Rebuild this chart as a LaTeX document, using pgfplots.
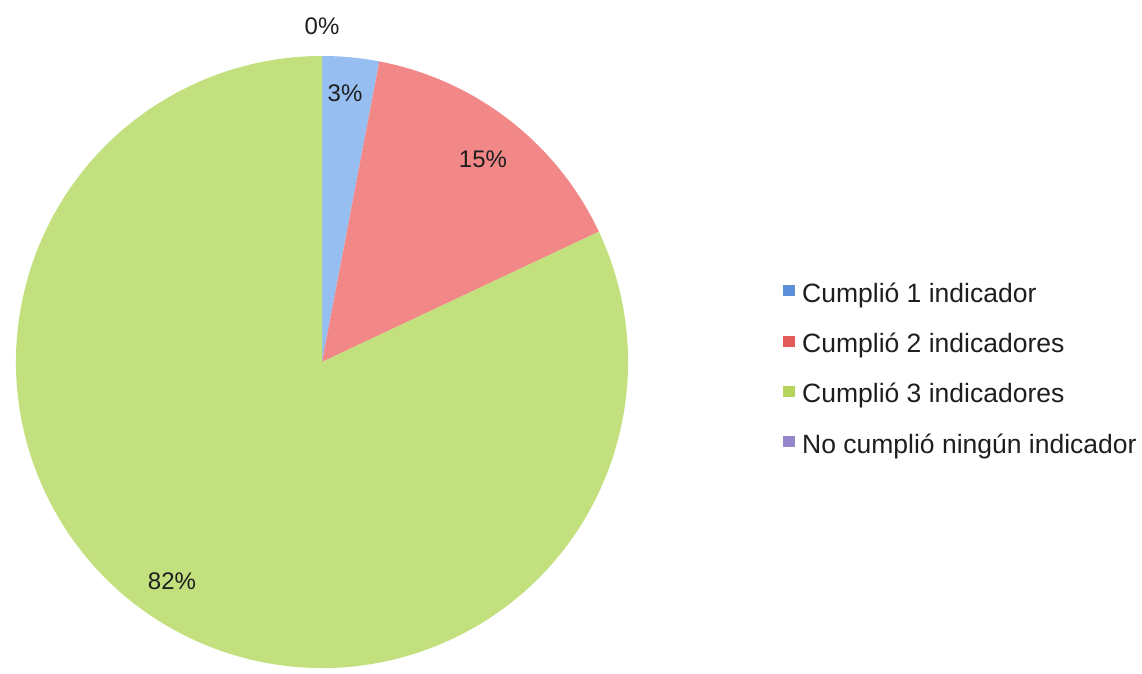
\documentclass[border=0pt]{standalone}
\usepackage{pgfplots}
\pgfplotsset{compat=1.18}
\usepackage{pgfplotstable}
\usepackage{fontspec}
\setmainfont{Liberation Sans}
\definecolor{pieBlue}{HTML}{96BEF0}
\definecolor{pieRed}{HTML}{F28787}
\definecolor{pieGreen}{HTML}{C2E07E}
\definecolor{legBlue}{HTML}{5B8FD8}
\definecolor{legRed}{HTML}{E35A5A}
\definecolor{legGreen}{HTML}{B6D35C}
\definecolor{legPurple}{HTML}{9486C9}
\definecolor{txt}{HTML}{1E1E1E}
% percent of each category
\pgfplotstableread{
cat value
1 3
2 15
3 82
4 0
}\piedata
\begin{document}
\begin{tikzpicture}
\pgfplotstablegetelem{0}{value}\of\piedata \let\vA\pgfplotsretval
\pgfplotstablegetelem{1}{value}\of\piedata \let\vB\pgfplotsretval
\pgfplotstablegetelem{2}{value}\of\piedata \let\vC\pgfplotsretval
\pgfplotstablegetelem{3}{value}\of\piedata \let\vD\pgfplotsretval
\pgfmathsetmacro\aO{90}
\pgfmathsetmacro\aI{\aO-3.6*\vA}
\pgfmathsetmacro\aII{\aI-3.6*\vB}
\pgfmathsetmacro\aIII{\aII-3.6*\vC}
\begin{axis}[
  x=1pt, y=1pt, xmin=0, xmax=1142, ymin=0, ymax=673,
  enlargelimits=false, scale only axis, hide axis, clip=false,
  xtick=\empty, ytick=\empty,
  legend style={at={(axis cs:783,391)}, anchor=north west, draw=none, fill=none,
    inner sep=0pt, row sep=24.3pt,
    font=\fontsize{26.5}{30}\selectfont\color{txt},
    nodes={anchor=base west, inner sep=0pt, text height=20pt, text depth=6pt}},
  legend image code/.code={\fill[#1, draw=none] (0pt,6pt) rectangle (12pt,17pt); \path (19pt,0pt);},
]
\addlegendimage{fill=legBlue, draw=none}
\addlegendentry{Cumplió 1 indicador}
\addlegendimage{fill=legRed, draw=none}
\addlegendentry{Cumplió 2 indicadores}
\addlegendimage{fill=legGreen, draw=none}
\addlegendentry{Cumplió 3 indicadores}
\addlegendimage{fill=legPurple, draw=none}
\addlegendentry{No cumplió ningún indicador}
\fill[pieBlue] (axis cs:322,311) -- ++(\aO:306pt) arc[start angle=\aO, end angle=\aI, radius=306pt] -- cycle;
\fill[pieRed] (axis cs:322,311) -- ++(\aI:306pt) arc[start angle=\aI, end angle=\aII, radius=306pt] -- cycle;
\fill[pieGreen] (axis cs:322,311) -- ++(\aII:306pt) arc[start angle=\aII, end angle=\aIII, radius=306pt] -- cycle;
\begin{scope}[font=\fontsize{24}{28}\selectfont, text=txt]
\node[anchor=base] at (axis cs:322,638) {\pgfmathprintnumber[assume math mode=true]{\vD}\%};
\node[anchor=base] at (axis cs:345,571) {\pgfmathprintnumber[assume math mode=true]{\vA}\%};
\node[anchor=base] at (axis cs:483,505) {\pgfmathprintnumber[assume math mode=true]{\vB}\%};
\node[anchor=base] at (axis cs:172,84) {\pgfmathprintnumber[assume math mode=true]{\vC}\%};
\end{scope}
\end{axis}
\pgfresetboundingbox
\path (current axis.south west) rectangle (current axis.north east);
\end{tikzpicture}
\end{document}
